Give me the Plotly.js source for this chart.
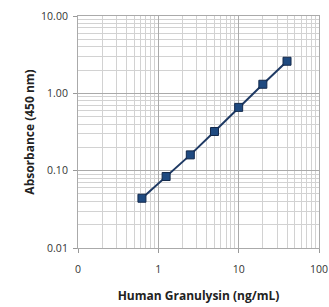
<!DOCTYPE html>
<html><head><meta charset="utf-8">
<script src="https://cdn.plot.ly/plotly-3.0.1.min.js"></script>
<style>html,body{margin:0;padding:0;background:#fff}#chart{width:329px;height:307px}</style>
</head><body><div id="chart"></div>
<script>
const concentration = [0.625, 1.25, 2.5, 5, 10, 20, 40];
const absorbance = [0.044, 0.084, 0.160, 0.321, 0.658, 1.31, 2.6];
const xTickVals = [0.1, 1, 10, 100];
const xTickText = ["0", "1", "10", "100"];
const yTickVals = [0.01, 0.1, 1, 10];
const yTickText = ["0.01", "0.10", "1.00", "10.00"];

const trace = {
  x: concentration, y: absorbance, type: 'scatter', mode: 'lines+markers',
  line: {color: '#1f3a64', width: 2},
  marker: {symbol: 'square', size: 8, color: '#1f4a80', line: {color: '#13294b', width: 1}},
  hoverinfo: 'none'
};
const font = {family: 'Open Sans, Liberation Sans, sans-serif', size: 10.5, color: '#333'};
const titleFont = {family: 'Open Sans, sans-serif', size: 12, color: '#222'};
const layout = {
  width: 329, height: 307,
  margin: {l: 78, r: 10, t: 16, b: 59},
  paper_bgcolor: '#fff', plot_bgcolor: '#fff',
  showlegend: false,
  font: font,
  xaxis: {
    type: 'log', range: [-1, 2],
    tickmode: 'array', tickvals: xTickVals, ticktext: xTickText,
    ticks: 'outside', ticklen: 4, tickcolor: '#999',
    ticklabelstandoff: 7,
    showgrid: true, gridcolor: '#aaa', gridwidth: 1,
    minor: {dtick: 'D1', showgrid: true, gridcolor: '#d2d2d2', gridwidth: 1},
    showline: true, linecolor: '#aaa', mirror: true,
    zeroline: false,
    title: {text: '<b>Human Granulysin (ng/mL)</b>', font: titleFont, standoff: 17}
  },
  yaxis: {
    type: 'log', range: [-2, 1],
    tickmode: 'array', tickvals: yTickVals, ticktext: yTickText,
    ticks: 'outside', ticklen: 4, tickcolor: '#999',
    ticklabelstandoff: 3,
    showgrid: true, gridcolor: '#aaa', gridwidth: 1,
    minor: {dtick: 'D1', showgrid: true, gridcolor: '#d2d2d2', gridwidth: 1},
    showline: true, linecolor: '#aaa', mirror: true,
    zeroline: false,
    title: {text: '<b>Absorbance (450 nm)</b>', font: titleFont, standoff: 3}
  }
};
Plotly.newPlot('chart', [trace], layout, {staticPlot: true, displayModeBar: false});
</script></body></html>
